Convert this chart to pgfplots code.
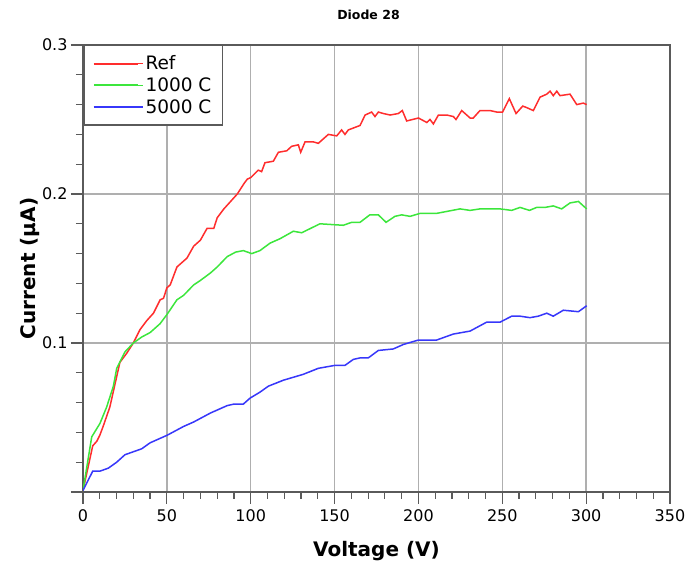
\documentclass[border=0pt]{standalone}
\usepackage{fontspec}
\setmainfont{DejaVu Sans}
\usepackage{pgfplots}
\pgfplotsset{compat=1.18}
\definecolor{cred}{RGB}{255,45,45}
\definecolor{cgreen}{RGB}{60,230,60}
\definecolor{cblue}{RGB}{55,55,250}
\definecolor{gridc}{RGB}{175,175,175}
\definecolor{axc}{RGB}{90,90,90}
\begin{document}
\begin{tikzpicture}
\begin{axis}[
  name=ax,
  at={(83pt,75pt)}, anchor=south west,
  scale only axis, width=587pt, height=447pt,
  xmin=0, xmax=350, ymin=0, ymax=0.3,
  xtick={0,50,...,350},
  ytick={0,0.1,0.2,0.3}, yticklabels={,0.1,0.2,0.3},
  minor x tick num=4, minor y tick num=4,
  tick align=outside, xtick pos=bottom, ytick pos=left,
  major tick length=12pt, minor tick length=7pt,
  every tick/.style={axc, line width=1.2pt},
  grid=major, major grid style={gridc, line width=1.5pt},
  axis line style={axc, line width=1.6pt},
  /pgf/number format/assume math mode=true,
  /pgf/number format/fixed,
  tick label style={font=\fontsize{16}{19}\selectfont},
  xticklabel style={yshift=-2pt},
  legend style={at={(0,1)}, anchor=north west, draw=axc, line width=1.5pt,
    font=\fontsize{18.5}{22}\selectfont, row sep=2.5pt, inner xsep=9pt, inner ysep=8pt},
  legend cell align=left,
  legend image code/.code={\draw[#1, line width=2pt] (0pt,0pt) -- (44pt,0pt); \path (0pt,0pt) -- (49pt,0pt);},
]
\addplot[cred, line width=1.5pt] coordinates {
(0,0.001) (5.8,0.031) (8.2,0.034) (10,0.038) (12,0.044) (16,0.057) (20,0.077) (22,0.087)
(26,0.093) (30,0.100) (34,0.109) (38,0.115) (42,0.120) (46,0.129) (48,0.130) (50,0.137)
(52,0.139) (56,0.151) (62,0.157) (66,0.165) (70,0.169) (74,0.177) (78,0.177) (80,0.184)
(84,0.190) (88,0.195) (92,0.200) (96,0.207) (98,0.210) (100,0.211) (104.5,0.216)
(106.5,0.215) (108.5,0.221) (113.5,0.222) (116.5,0.228) (121.5,0.229) (124.4,0.232)
(128.4,0.233) (129.8,0.228) (132.4,0.235) (137.3,0.235) (140.3,0.234) (146.3,0.240)
(151.3,0.239) (154.2,0.243) (156.2,0.240) (158.2,0.243) (165.2,0.246) (168.2,0.253)
(172.1,0.255) (174.1,0.252) (176.1,0.255) (179.1,0.254) (183.1,0.253) (188,0.254)
(190.4,0.256) (193,0.249) (200,0.251) (205,0.248) (206.9,0.250) (208.9,0.247)
(211.9,0.253) (216.9,0.253) (220.8,0.252) (222.4,0.250) (225.8,0.256) (230.8,0.251)
(232.7,0.251) (236.7,0.256) (242.7,0.256) (246.7,0.255) (250.2,0.255) (254.2,0.264)
(258.2,0.254) (262.2,0.259) (264.5,0.258) (268.5,0.256) (272.5,0.265) (276.5,0.267)
(278.5,0.269) (280.4,0.266) (282.5,0.269) (284.4,0.266) (290.4,0.267) (294.4,0.260)
(298.3,0.261) (300.3,0.260)
};
\addlegendentry{Ref}
\addplot[cgreen, line width=1.5pt] coordinates {
(0,0.001) (5.2,0.037) (10.1,0.046) (14.1,0.057) (18.1,0.071) (20.1,0.083) (25,0.094)
(30,0.100) (35,0.104) (40,0.107) (46,0.113) (50,0.119) (56,0.129) (60,0.132) (66,0.139)
(70,0.142) (76,0.147) (80,0.151) (86,0.158) (91,0.161) (95.6,0.162) (100.6,0.160)
(105.5,0.162) (111.5,0.167) (117.5,0.170) (125.4,0.175) (130.4,0.174) (141.3,0.180)
(155.2,0.179) (160.2,0.181) (165.2,0.181) (171,0.186) (176.1,0.186) (180.7,0.181)
(186,0.185) (190,0.186) (195,0.185) (201,0.187) (210.9,0.187) (224.8,0.190)
(230.8,0.189) (236.7,0.190) (248.7,0.190) (255.6,0.189) (260.6,0.191) (266.2,0.189)
(270.5,0.191) (275.5,0.191) (280.4,0.192) (285.4,0.190) (290.4,0.194) (295.4,0.195)
(300.3,0.190)
};
\addlegendentry{1000 C}
\addplot[cblue, line width=1.5pt] coordinates {
(0,0.001) (5.8,0.014) (10.1,0.014) (15.1,0.016) (20.1,0.020) (25,0.025) (30,0.027)
(35,0.029) (40,0.033) (50,0.038) (60,0.044) (66,0.047) (76,0.053) (86,0.058) (90,0.059)
(95.6,0.059) (99.6,0.063) (105.5,0.067) (110.5,0.071) (119.4,0.075) (131.4,0.079)
(140.3,0.083) (150.3,0.085) (156.2,0.085) (161.2,0.089) (165.2,0.090) (170.1,0.090)
(176.1,0.095) (185,0.096) (191,0.099) (200,0.102) (210.9,0.102) (220.8,0.106)
(230.8,0.108) (240.7,0.114) (248.7,0.114) (255.6,0.118) (260.6,0.118) (266.5,0.117)
(271.5,0.118) (276.5,0.120) (280.4,0.118) (286.4,0.122) (295.4,0.121) (300.3,0.125)
};
\addlegendentry{5000 C}
\end{axis}
\node[font=\fontsize{12.5}{14}\selectfont\bfseries] at ([xshift=-8pt,yshift=30pt]ax.north) {Diode 28};
\node[font=\fontsize{20}{24}\selectfont\bfseries] at ([yshift=-59pt]ax.south) {Voltage (V)};
\node[font=\fontsize{20}{24}\selectfont\bfseries, rotate=90] at ([xshift=-53pt]ax.west) {Current (µA)};
\pgfresetboundingbox
\useasboundingbox (0pt,0pt) rectangle (688pt,567pt);
\end{tikzpicture}
\end{document}
